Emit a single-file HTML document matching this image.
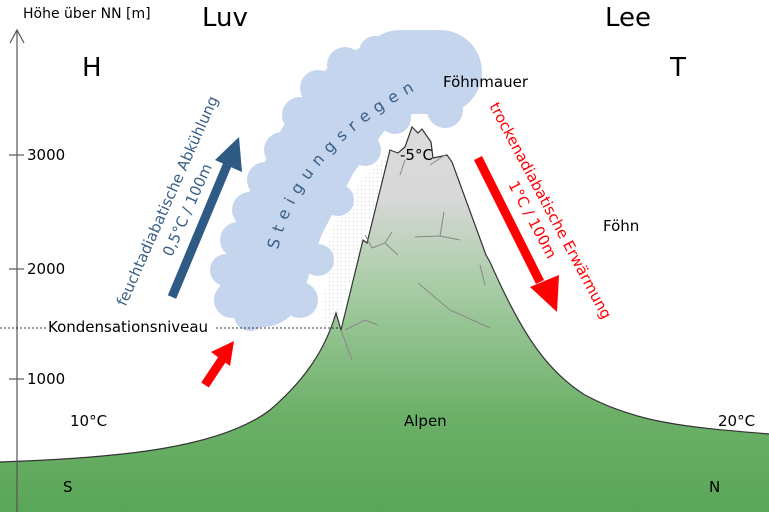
<!DOCTYPE html>
<html><head><meta charset="utf-8"><style>
html,body{margin:0;padding:0;background:#fff}
svg{display:block}
text{font-family:"DejaVu Sans","Liberation Sans",sans-serif}
</style></head><body>
<svg width="769" height="512" viewBox="0 0 769 512" xmlns="http://www.w3.org/2000/svg">
<defs>
<linearGradient id="mt" gradientUnits="userSpaceOnUse" x1="0" y1="120" x2="0" y2="512">
<stop offset="0" stop-color="#dcdcdc"/>
<stop offset="0.2" stop-color="#d8d8d8"/>
<stop offset="0.42" stop-color="#a9cda6"/>
<stop offset="0.75" stop-color="#6cb068"/>
<stop offset="1" stop-color="#5aa657"/>
</linearGradient>
<pattern id="rain" width="4" height="4" patternUnits="userSpaceOnUse"><rect x="1" y="1" width="0.8" height="0.8" fill="#aab"/></pattern>
</defs>
<polygon points="322,330 330,230 360,180 392,150 390,170 362,240 340,318" fill="url(#rain)"/>
<g fill="#c5d5ee">
<path d="M262,285 L282,220 L318,150 L355,100 L400,72 L440,72" fill="none" stroke="#c5d5ee" stroke-width="84" stroke-linecap="round" stroke-linejoin="round"/>
<circle cx="232" cy="300" r="18"/><circle cx="226" cy="270" r="16"/><circle cx="238" cy="240" r="18"/>
<circle cx="250" cy="210" r="18"/><circle cx="265" cy="180" r="18"/><circle cx="282" cy="150" r="18"/>
<circle cx="300" cy="115" r="18"/><circle cx="318" cy="88" r="18"/><circle cx="345" cy="65" r="18"/>
<circle cx="375" cy="52" r="16"/><circle cx="410" cy="50" r="16"/><circle cx="440" cy="52" r="16"/>
<circle cx="455" cy="85" r="20"/><circle cx="445" cy="110" r="18"/><circle cx="300" cy="300" r="18"/><circle cx="318" cy="260" r="16"/>
<circle cx="338" cy="200" r="16"/><circle cx="365" cy="150" r="16"/><circle cx="395" cy="118" r="16"/>
<circle cx="250" cy="315" r="16"/>
</g>
<path id="sp" d="M278,250 Q300,150 425,85" fill="none"/>
<text font-size="16" fill="#3a5f86" letter-spacing="7"><textPath href="#sp">Steigungsregen</textPath></text>
<path d="M0,462 C120,458 220,448 270,410 C305,380 325,350 336,313 L341,330 L363,240 L367,243 L390,150 L398,153 L405,147 L412,127 L418,133 L422,129 L431,142 L433,158 L447,155 L452,162 L486,255 L490,262 C520,330 545,370 585,395 C640,425 700,428 769,434 L769,512 L0,512 Z" fill="url(#mt)" stroke="none"/>
<path d="M0,462 C120,458 220,448 270,410 C305,380 325,350 336,313 L341,330 L363,240 L367,243 L390,150 L398,153 L405,147 L412,127 L418,133 L422,129 L431,142 L433,158 L447,155 L452,162 L486,255 L490,262 C520,330 545,370 585,395 C640,425 700,428 769,434" fill="none" stroke="#333" stroke-width="1.2"/>
<g stroke="#888" stroke-width="1" fill="none">
<path d="M400,175 L405,160"/><path d="M430,165 L445,155"/>
<path d="M365,235 L372,248 L385,243 L392,232 M385,243 L398,255"/>
<path d="M415,237 L440,236 L444,212 M440,236 L460,240"/>
<path d="M418,283 L450,310 L490,328"/><path d="M485,285 L480,265"/>
<path d="M341,330 L352,360 M345,330 L365,320 L378,325"/>
</g>
<g stroke="#555" stroke-width="1.2" fill="none">
<line x1="17" y1="30" x2="17" y2="512"/>
<polyline points="10,43 17,30 24,43"/>
<line x1="9" y1="155" x2="24" y2="155"/><line x1="9" y1="269" x2="24" y2="269"/><line x1="9" y1="379" x2="24" y2="379"/>
</g>
<line x1="0" y1="328" x2="340" y2="328" stroke="#000" stroke-width="0.8" stroke-dasharray="2,2"/>
<rect x="46" y="318" width="170" height="18" fill="#fff"/>
<g font-size="15" fill="#000">
<text x="23" y="18" font-size="14">Höhe über NN [m]</text>
<text x="27" y="160">3000</text><text x="27" y="274">2000</text><text x="27" y="384">1000</text>
<text x="48" y="332">Kondensationsniveau</text>
<text x="70" y="426">10°C</text><text x="404" y="426">Alpen</text><text x="718" y="426">20°C</text>
<text x="63" y="492">S</text><text x="709" y="492">N</text>
<text x="443" y="87">Föhnmauer</text><text x="603" y="231">Föhn</text>
<text x="400" y="160">-5°C</text>
</g>
<g font-size="26" fill="#000">
<text x="202" y="26">Luv</text><text x="605" y="26">Lee</text>
<text x="82" y="76">H</text><text x="670" y="76">T</text>
</g>
<line x1="172" y1="297" x2="228" y2="163" stroke="#2f5a84" stroke-width="9"/>
<polygon points="239,137 215,160 242,172" fill="#2f5a84"/>
<g fill="#3a5f86" font-size="15" text-anchor="middle">
<text transform="translate(172,203) rotate(-66)">feuchtadiabatische Abkühlung</text>
<text transform="translate(192,212) rotate(-66)">0,5°C / 100m</text>
</g>
<line x1="478" y1="158" x2="540" y2="282" stroke="#f00" stroke-width="9"/>
<polygon points="557,312 530,287 559,275" fill="#f00"/>
<line x1="205" y1="385" x2="223" y2="358" stroke="#f00" stroke-width="9"/>
<polygon points="234,341 211,352 230,366" fill="#f00"/>
<g fill="#f00" font-size="15" text-anchor="middle">
<text transform="translate(546,213) rotate(62)">trockenadiabatische Erwärmung</text>
<text transform="translate(528,222) rotate(62)">1°C / 100m</text>
</g>
</svg>
</body></html>
